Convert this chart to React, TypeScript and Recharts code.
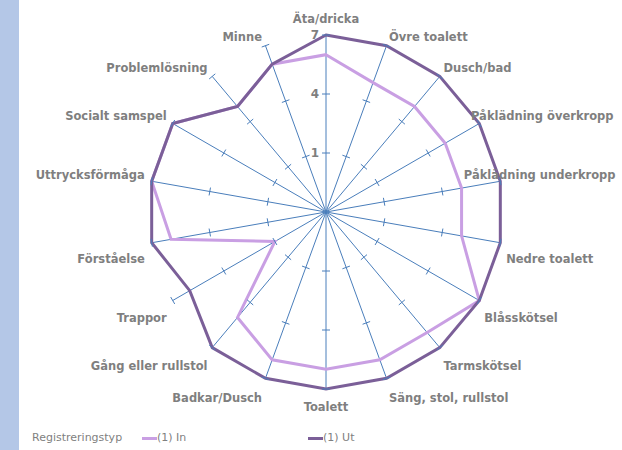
import { RadarChart, Radar, PolarGrid, PolarAngleAxis, PolarRadiusAxis, Legend } from 'recharts';

// axes, clockwise from the top
const categories = [
  'Äta/dricka',
  'Övre toalett',
  'Dusch/bad',
  'Påklädning överkropp',
  'Påklädning underkropp',
  'Nedre toalett',
  'Blåsskötsel',
  'Tarmskötsel',
  'Säng, stol, rullstol',
  'Toalett',
  'Badkar/Dusch',
  'Gång eller rullstol',
  'Trappor',
  'Förståelse',
  'Uttrycksförmåga',
  'Socialt samspel',
  'Problemlösning',
  'Minne',
];
const inValues = [6, 5, 5, 5, 5, 5, 7, 6, 6, 6, 6, 5, 1, 6, 7, 7, 5, 6];
const utValues = [7, 7, 7, 7, 7, 7, 7, 7, 7, 7, 7, 7, 6, 7, 7, 7, 5, 6];
const radiusTicks = [-2, 1, 4, 7];
const radiusTickLabels = ['', '1', '4', '7'];
const seriesNames = ['(1) In', '(1) Ut'];
const legendTitle = 'Registreringstyp';

const CX = 326;
const CY = 212;
const R = 177;
const AXIS = '#4a7ebb';
const TEXT = '#7f7f7f';
const IN_COLOR = '#c99fe3';
const UT_COLOR = '#7b5f98';
const FONT = '"DejaVu Sans", Verdana, sans-serif';

const data = categories.map((name, i) => ({ name, in: inValues[i], ut: utValues[i] }));

// small cross ticks on every spoke + the numbers on the top spoke
function RadiusTick(props: any) {
  const { payload, index, x, y } = props;
  const r = payload.coordinate;
  if (r <= 0.5) return <g />;
  const n = categories.length;
  return (
    <g>
      {categories.map((_, i) => {
        const a = ((90 - (i * 360) / n) * Math.PI) / 180;
        const px = CX + r * Math.cos(a);
        const py = CY - r * Math.sin(a);
        const tx = Math.sin(a) * 4;
        const ty = Math.cos(a) * 4;
        return (
          <line key={i} x1={px - tx} y1={py - ty} x2={px + tx} y2={py + ty} stroke={AXIS} strokeWidth={1} />
        );
      })}
      <text
        x={x - 7}
        y={y}
        textAnchor="end"
        dominantBaseline="central"
        fill={TEXT}
        fontFamily={FONT}
        fontSize={12}
        fontWeight="bold"
      >
        {radiusTickLabels[index]}
      </text>
    </g>
  );
}

function AngleTick(props: any) {
  const { payload } = props;
  const a = (payload.coordinate * Math.PI) / 180;
  const cos = Math.cos(a);
  const sin = Math.sin(a);
  const ex = CX + R * cos;
  const ey = CY - R * sin;
  let anchor: 'start' | 'end' | 'middle' = 'middle';
  let tx = ex;
  let ty = ey;
  if (Math.abs(cos) < 0.2) {
    ty = sin > 0 ? ey - 16 : ey + 18;
  } else {
    ty = sin > 0 ? ey - (6 + 3 * sin) : ey + 15 + 5 * Math.abs(sin);
    if (cos > 0) {
      anchor = 'start';
      tx = ex + 2 + 4 * cos * cos;
      const w = String(payload.value).length * 7.2;
      if (tx + w > 615) tx = 615 - w;
    } else {
      anchor = 'end';
      tx = ex - (3 + 4 * cos * cos);
    }
  }
  return (
    <text
      x={tx}
      y={ty}
      textAnchor={anchor}
      dominantBaseline="central"
      fill={TEXT}
      fontFamily={FONT}
      fontSize={11.5}
      fontWeight="bold"
    >
      {payload.value}
    </text>
  );
}

const legendX = [142, 308];
const legendColors = [IN_COLOR, UT_COLOR];

function renderLegend() {
  return (
    <div style={{ position: 'relative', height: 16, fontFamily: FONT, fontSize: 11, color: TEXT, lineHeight: '16px' }}>
      <span style={{ position: 'absolute', left: 32, top: 0 }}>{legendTitle}</span>
      {seriesNames.map((name, i) => (
        <span key={name} style={{ position: 'absolute', left: legendX[i], top: 0, display: 'flex', alignItems: 'center', whiteSpace: 'nowrap' }}>
          <span style={{ display: 'inline-block', width: 15, height: 3, background: legendColors[i] }} />
          <span>{name}</span>
        </span>
      ))}
    </div>
  );
}

export default function App() {
  return (
    <div style={{ position: 'absolute', left: 0, top: 0, width: 622, height: 450, background: '#fff', fontFamily: FONT }}>
      <div style={{ position: 'absolute', left: 0, top: 0, width: 19, height: 450, background: '#b4c7e7' }} />
      <RadarChart width={622} height={450} data={data} cx={CX} cy={CY} outerRadius={R} margin={{ top: 0, right: 0, bottom: 0, left: 0 }}>
        <PolarGrid gridType="polygon" polarRadius={[]} radialLines stroke={AXIS} strokeWidth={1} />
        <PolarAngleAxis dataKey="name" tick={AngleTick} tickLine={false} axisLine={false} />
        <PolarRadiusAxis
          type="number"
          angle={90}
          domain={[-2, 7]}
          ticks={radiusTicks}
          axisLine={false}
          tick={RadiusTick}
        />
        <Radar
          dataKey="in"
          name={seriesNames[0]}
          stroke={IN_COLOR}
          strokeWidth={3}
          fill="none"
          fillOpacity={0}
          dot={false}
          isAnimationActive={false}
        />
        <Radar
          dataKey="ut"
          name={seriesNames[1]}
          stroke={UT_COLOR}
          strokeWidth={3}
          fill="none"
          fillOpacity={0}
          dot={false}
          isAnimationActive={false}
        />
        <Legend content={renderLegend} wrapperStyle={{ position: 'absolute', left: 0, top: 430, width: 622 }} />
      </RadarChart>
    </div>
  );
}
